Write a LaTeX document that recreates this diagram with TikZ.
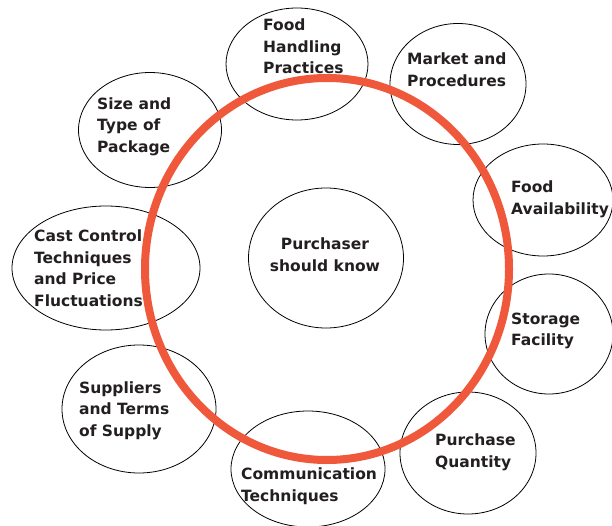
\documentclass[tikz,border=0pt]{standalone}
\usepackage{fontspec}
\usepackage{tikz}
\usepackage{xcolor}
\usetikzlibrary{shapes.geometric}
\setmainfont{DejaVu Sans}
\definecolor{ringred}{RGB}{240,88,60}
\definecolor{inkgray}{RGB}{35,31,32}

\begin{document}
\begin{tikzpicture}[x=1pt,y=-1pt]
	\tikzstyle{topic} = [draw=black, line width=0.8pt, ellipse, inner sep=0pt]
	\tikzstyle{words} = [anchor=north west, align=left, inner sep=0pt, text=inkgray,
		font=\fontsize{15.5}{21.4}\selectfont\bfseries]
	\useasboundingbox (0,0) rectangle (612,526);
		\node[topic, minimum width=142, minimum height=112] (handling) at (297,64)  {};
		\node[topic, minimum width=136, minimum height=121] (market)   at (458,84)  {};
		\node[topic, minimum width=143, minimum height=115] (package)  at (150,130) {};
		\node[topic, minimum width=140, minimum height=112] (avail)    at (543,200) {};
		\node[topic, minimum width=155, minimum height=140] (know)     at (326,258) {};
		\node[topic, minimum width=188, minimum height=124] (cost)     at (106,268) {};
		\node[topic, minimum width=128, minimum height=120] (storage)  at (549,334) {};
		\node[topic, minimum width=154, minimum height=128] (supply)   at (139,409) {};
		\node[topic, minimum width=136, minimum height=122] (quantity) at (468,453) {};
		\node[topic, minimum width=154, minimum height=116] (comm)     at (308,469) {};
	\node[ellipse, draw=ringred, line width=8pt, inner sep=0pt,
		minimum width=364, minimum height=382] (ring) at (327,269) {};
		\node[words] (handlingtext) at (263,19)  {Food\\Handling\\Practices};
		\node[words] (markettext)   at (407,53)  {Market and\\Procedures};
		\node[words] (packagetext)  at (97,97.5) {Size and\\Type of\\Package};
		\node[words] (availtext)    at (511,181) {Food\\Availability};
		\node[words, align=center, anchor=north] (knowtext) at (325,238) {Purchaser\\should know};
		\node[words] (costtext)     at (34,230)  {Cast Control\\Techniques\\and Price\\Fluctuations};
		\node[words] (storagetext)  at (511,312.5) {Storage\\Facility};
		\node[words] (supplytext)   at (79,381.5) {Suppliers\\and Terms\\of Supply};
		\node[words] (quantitytext) at (435,434) {Purchase\\Quantity};
		\node[words] (commtext)     at (241,468) {Communication\\Techniques};
	\end{tikzpicture}
\end{document}
